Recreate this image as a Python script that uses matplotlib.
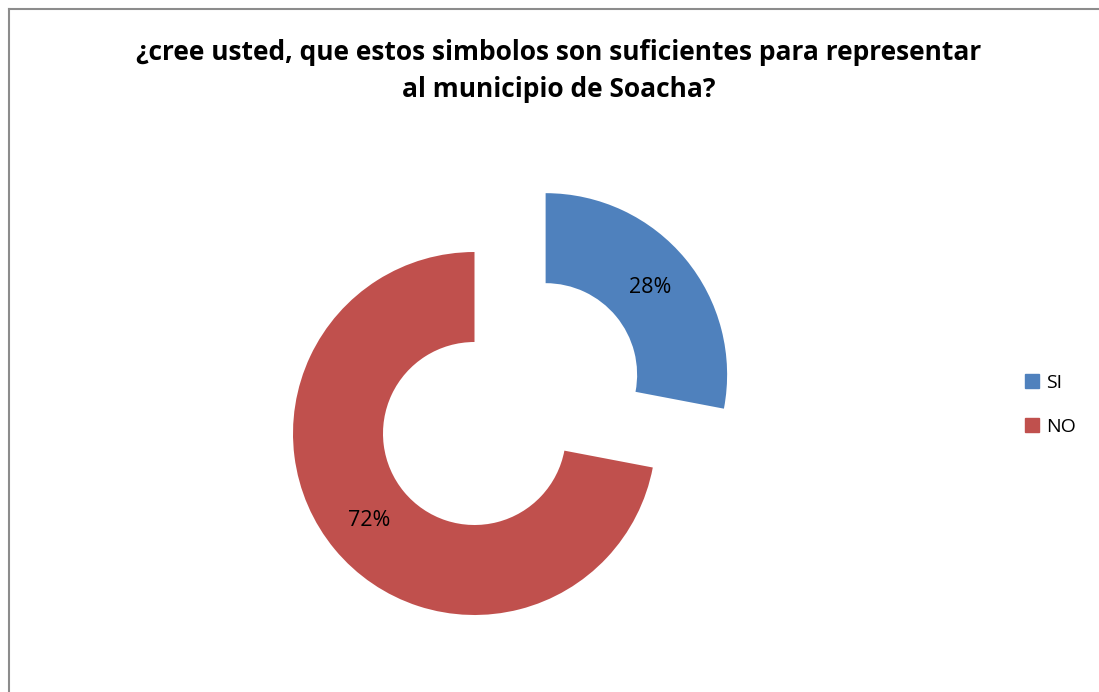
import matplotlib
matplotlib.use("Agg")
import matplotlib.pyplot as plt
from matplotlib.lines import Line2D
import numpy as np

title = "¿cree usted, que estos simbolos son suficientes para representar\nal municipio de Soacha?"
categories = ["SI", "NO"]
values = [28, 72]
colors = ["#4F81BD", "#C0504D"]

plt.rcParams['font.family'] = ['Open Sans', 'DejaVu Sans']

W, H = 1099, 692
fig = plt.figure(figsize=(W / 100, H / 100), dpi=100)
ax = fig.add_axes([0, 0, 1, 1])

R = 181.5
wedges, texts = ax.pie(values, colors=colors, startangle=90, counterclock=False,
                       radius=R, center=(474.5, H - 433.5),
                       explode=[92.3, 0],
                       wedgeprops=dict(width=90, linewidth=0),
                       labels=None)
# percentage labels
total = sum(values)
start = 90.0
for v, w in zip(values, wedges):
    ang = start - 360 * v / total / 2
    cx, cy = w.center
    d = 0.75 * R
    ax.text(cx + d * np.cos(np.radians(ang)), cy + d * np.sin(np.radians(ang)),
            f"{v}%", ha='center', va='center', fontsize=15.5, color='black')
    start -= 360 * v / total

ax.set_xlim(0, W)
ax.set_ylim(0, H)
ax.set_aspect('equal')
ax.axis('off')

fig.text(559 / W, 1 - 71 / H, title, ha='center', va='center', fontsize=19,
         fontweight='bold', linespacing=1.52)

handles = [plt.Rectangle((0, 0), 1, 1, color=c) for c in colors]
leg = fig.legend(handles, categories, loc='center left',
                 bbox_to_anchor=(1015 / W, 1 - 405 / H), frameon=False,
                 fontsize=14, handlelength=0.75, handleheight=0.75,
                 handletextpad=0.35, labelspacing=1.35, borderpad=0)

# chart area border
fig.add_artist(Line2D([9 / W, 9 / W], [0, 1 - 9 / H], color='#8c8c8c', lw=1.5,
                      transform=fig.transFigure))
fig.add_artist(Line2D([9 / W, 1], [1 - 9 / H, 1 - 9 / H], color='#8c8c8c', lw=1.5,
                      transform=fig.transFigure))

fig.savefig("out.png", dpi=100, facecolor='white')
